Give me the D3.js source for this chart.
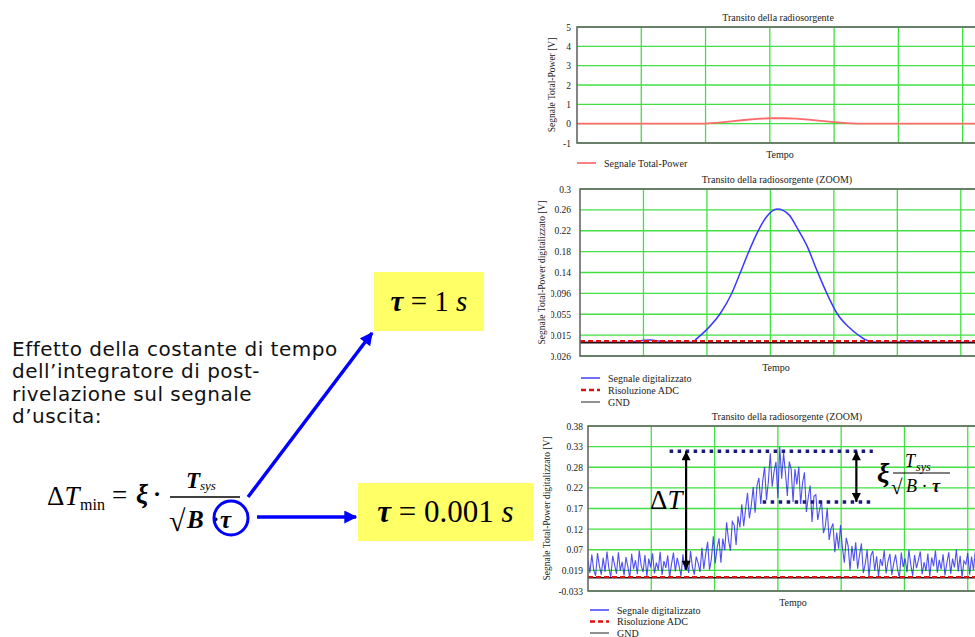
<!DOCTYPE html>
<html>
<head>
<meta charset="utf-8">
<script src="https://cdn.jsdelivr.net/npm/d3@7"></script>
<style>
  body { margin: 0; background: #fff; }
  svg { display: block; }
</style>
</head>
<body>
<svg id="slide" width="975" height="637"></svg>
<script>
// ---- data ----
// time axis has no labels, gridlines every 10 units
var timeGrid = [10, 20, 30, 40, 50, 60];

// top panel: total power signal [V]
var topTime = [0, 19.8, 22, 24, 26, 28, 30, 32, 34, 36, 38, 40, 42, 43.5, 62.7];
var topVolt = [0, 0, 0.05, 0.12, 0.19, 0.25, 0.28, 0.28, 0.26, 0.21, 0.14, 0.08, 0.03, 0, 0];
var topTicks = [-1, 0, 1, 2, 3, 4, 5];
var topLabels = ["-1", "0", "1", "2", "3", "4", "5"];

// middle panel: digitised signal, tau = 1 s
var midTime = [0, 8, 9.5, 11, 12.6, 14, 17.7, 18.4, 20.0, 22.1, 23.9, 25.2, 26.5, 27.9, 29.4, 31.1,
               32.9, 34.4, 35.8, 37.3, 38.9, 40.5, 42.3, 43.9, 45.5, 47, 50, 51.5, 53, 54.5, 63.5];
var midVolt = [0.001, 0.001, 0.004, 0.005, 0.003, 0.001, 0.001, 0.008, 0.026, 0.057, 0.096, 0.135, 0.175, 0.214, 0.246, 0.261,
               0.250, 0.220, 0.188, 0.142, 0.096, 0.057, 0.031, 0.0145, 0.003, 0.001, 0.001, 0.004, 0.003, 0.001, 0.001];
var midTicks = [-0.026, 0.01475, 0.0555, 0.09625, 0.137, 0.17775, 0.2185, 0.25925, 0.3];
var midLabels = ["-0.026", "0.015", "0.055", "0.096", "0.14", "0.18", "0.22", "0.26", "0.3"];

// bottom panel: digitised signal, tau = 0.001 s, samples every 0.3 time units (mV)
var noiseBefore = [45, 12, 58, 20, 5, 62, 30, 8, 50, 15, 66, 24, 2, 55, 33, 10, 64, 18, 40, 6,
                   52, 28, 0, 60, 22, 44, 9, 68, 31, 14, 57, 3, 48, 26, 61, 11, 38, 19, 65, 7,
                   42, 25, 56, 1, 35, 63, 16, 50, 29, 4, 59, 21, 46, 12, 67, 27, 8, 53, 37, 15];
var noiseTransit = [75, 22, 60, 90, 20, 48, 104, 36, 75, 99,
                    38, 98, 69, 139, 95, 68, 141, 132, 82, 154,
                    126, 184, 129, 173, 213, 149, 181, 227, 163, 230,
                    250, 185, 242, 277, 195, 241, 312, 228, 267, 290,
                    200, 328, 248, 312, 262, 205, 291, 272, 190, 272,
                    234, 278, 185, 238, 264, 165, 201, 231, 140, 204,
                    208, 145, 172, 192, 112, 129, 174, 95, 123, 136,
                    64, 113, 73, 132, 76, 38, 100, 80, 19, 80,
                    42, 89, 23, 57, 86, 12, 34, 70, 2, 56,
                    67];
var noiseAfter = [18, 54, 3, 47, 30, 69, 11, 41, 60, 7, 36, 58, 22, 0, 63, 27, 49, 14, 70, 33,
                  5, 57, 24, 44, 66, 9, 39, 17, 61, 2, 51, 29, 68, 13, 45, 21, 59, 6, 37, 64,
                  10, 48, 26, 71, 16, 55, 1, 42, 34, 62, 8, 53, 20, 67, 31, 4, 46, 23, 60, 12];
var sampleStep = 0.3;
var botTicks = [-0.033, 0.018625, 0.07025, 0.121875, 0.1735, 0.225125, 0.27675, 0.328375, 0.38];
var botLabels = ["-0.033", "0.019", "0.07", "0.12", "0.17", "0.22", "0.28", "0.33", "0.38"];

// reference levels [V]
var gndLevel = [0, 0];
var adcLevel = [0.003, 0.002];

// annotation on bottom panel (time, volts)
var dottedLevel = [0.317, 0.19];
var dottedFrom = [12.9, 27.6];
var dottedTo = [45, 45];
var arrowTime = [15.5, 42.4];
var arrowTop = [0.317, 0.317];
var arrowBottom = [0.02, 0.19];

var paragraph = ["Effetto della costante di tempo", "dell\u2019integratore di post-",
                 "rivelazione sul segnale", "d\u2019uscita:"];

// ---- drawing ----
var svg = d3.select("#slide");
var serif = "'Liberation Serif', 'Times New Roman', serif";
var gridGreen = "#42e042";
var defs = svg.append("defs");

defs.append("marker").attr("id", "headBlack")
    .attr("viewBox", "0 0 10 10").attr("refX", 10).attr("refY", 5)
    .attr("markerUnits", "userSpaceOnUse").attr("markerWidth", 10).attr("markerHeight", 9)
    .attr("orient", "auto-start-reverse")
  .append("path").attr("d", "M0,0 L10,5 L0,10 z").attr("fill", "#000");
defs.append("marker").attr("id", "headBlue")
    .attr("viewBox", "0 0 10 10").attr("refX", 9).attr("refY", 5)
    .attr("markerUnits", "userSpaceOnUse").attr("markerWidth", 15).attr("markerHeight", 13)
    .attr("orient", "auto")
  .append("path").attr("d", "M0,0 L10,5 L0,10 z").attr("fill", "#0000ff");

function drawPanel(p) {
  var x = d3.scaleLinear().domain(p.xDomain).range([p.left, p.left + p.width]);
  var y = d3.scaleLinear().domain(d3.extent(p.yTicks)).range([p.top + p.height, p.top]);
  var g = svg.append("g");

  defs.append("clipPath").attr("id", "plot" + p.id).append("rect")
      .attr("x", p.left).attr("y", p.top - 3).attr("width", p.width).attr("height", p.height + 6);

  g.append("g").selectAll("line").data(p.yTicks).enter().append("line")
      .attr("x1", p.left).attr("x2", p.left + p.width)
      .attr("y1", d => y(d)).attr("y2", d => y(d))
      .attr("stroke", gridGreen).attr("stroke-width", 1.3);
  g.append("g").selectAll("line").data(timeGrid).enter().append("line")
      .attr("x1", d => x(d)).attr("x2", d => x(d))
      .attr("y1", p.top).attr("y2", p.top + p.height)
      .attr("stroke", gridGreen).attr("stroke-width", 1.3);

  var axis = g.append("g").attr("transform", "translate(" + p.left + ",0)")
      .call(d3.axisLeft(y).tickValues(p.yTicks).tickFormat((d, i) => p.yLabels[i])
            .tickSize(0).tickPadding(p.pad));
  axis.select(".domain").remove();
  axis.selectAll("text").style("font-family", serif).style("font-size", "9.5px").attr("fill", "#222");
  if (p.labelClip) {
    defs.append("clipPath").attr("id", "lab" + p.id).append("rect")
        .attr("x", p.labelClip - p.left).attr("y", 0).attr("width", 60).attr("height", 637);
    axis.attr("clip-path", "url(#lab" + p.id + ")");
  }

  g.append("text").attr("transform", "translate(" + p.yTitleX + "," + (p.top + p.height / 2) + ") rotate(-90)")
      .attr("text-anchor", "middle").style("font-family", serif).style("font-size", "9.5px")
      .attr("fill", "#222").text(p.yTitle);
  g.append("text").attr("x", p.titleX).attr("y", p.top - 6).attr("text-anchor", "middle")
      .style("font-family", serif).style("font-size", "10px").attr("fill", "#222").text(p.title);
  g.append("text").attr("x", p.titleX + p.tempoShift).attr("y", p.top + p.height + 15).attr("text-anchor", "middle")
      .style("font-family", serif).style("font-size", "10px").attr("fill", "#222").text("Tempo");

  var plot = g.append("g").attr("clip-path", "url(#plot" + p.id + ")");

  g.append("rect").attr("x", p.left).attr("y", p.top).attr("width", p.width).attr("height", p.height)
      .attr("fill", "none").attr("stroke", "#666").attr("stroke-width", 1.6);

  // legend
  p.legend.forEach(function (item, i) {
    var ly = p.legendY + i * p.legendGap;
    g.append("line").attr("x1", p.legendX).attr("x2", p.legendX + 19).attr("y1", ly).attr("y2", ly)
        .attr("stroke", item.color).attr("stroke-width", item.width)
        .attr("stroke-dasharray", item.dash || null);
    g.append("text").attr("x", p.legendX + 27).attr("y", ly + 3.5)
        .style("font-family", serif).style("font-size", "10px").attr("fill", "#222").text(item.label);
  });

  return { x: x, y: y, plot: plot, g: g, p: p };
}

function levelLine(panel, level, color, width, dash) {
  var line = d3.line().x(d => panel.x(d)).y(panel.y(level));
  panel.plot.append("path").datum(panel.p.xDomain).attr("d", line)
      .attr("fill", "none").attr("stroke", color).attr("stroke-width", width)
      .attr("stroke-dasharray", dash || null);
}

var legendDig = [
  { label: "Segnale digitalizzato", color: "#7070ff", width: 2 },
  { label: "Risoluzione ADC", color: "#e01010", width: 2.5, dash: "5,3" },
  { label: "GND", color: "#222", width: 1 }
];

// top panel
var topPanel = drawPanel({
  id: "top", left: 577, top: 27, width: 403, height: 116, xDomain: [0, 62.7],
  yTicks: topTicks, yLabels: topLabels, pad: 6,
  yTitle: "Segnale Total-Power [V]", yTitleX: 555, title: "Transito della radiosorgente",
  titleX: 778, tempoShift: 2,
  legend: [{ label: "Segnale Total-Power", color: "#ff8080", width: 2 }],
  legendX: 577, legendY: 163, legendGap: 12
});
topPanel.plot.append("path").datum(d3.zip(topTime, topVolt))
    .attr("d", d3.line().x(d => topPanel.x(d[0])).y(d => topPanel.y(d[1])))
    .attr("fill", "none").attr("stroke", "#ff6a6a").attr("stroke-width", 1.8);

// middle panel
var midPanel = drawPanel({
  id: "mid", left: 580, top: 189, width: 403, height: 167, xDomain: [0, 63.5],
  yTicks: midTicks, yLabels: midLabels, pad: 9, labelClip: 551,
  yTitle: "Segnale Total-Power digitalizzato [V]", yTitleX: 545,
  title: "Transito della radiosorgente (ZOOM)", titleX: 777, tempoShift: -1,
  legend: legendDig, legendX: 581, legendY: 378, legendGap: 12
});
midPanel.plot.append("path").datum(d3.zip(midTime, midVolt))
    .attr("d", d3.line().curve(d3.curveMonotoneX).x(d => midPanel.x(d[0])).y(d => midPanel.y(d[1])))
    .attr("fill", "none").attr("stroke", "#3a3aff").attr("stroke-width", 1.5);
levelLine(midPanel, gndLevel[0], "#111", 1.4);
levelLine(midPanel, adcLevel[0], "#e01010", 2.2, "5,3");

// bottom panel
var botPanel = drawPanel({
  id: "bot", left: 588, top: 426, width: 400, height: 165, xDomain: [0, 63.2],
  yTicks: botTicks, yLabels: botLabels, pad: 5,
  yTitle: "Segnale Total-Power digitalizzato [V]", yTitleX: 550,
  title: "Transito della radiosorgente (ZOOM)", titleX: 787, tempoShift: 6,
  legend: legendDig, legendX: 590, legendY: 610, legendGap: 11.5
});
var noisy = noiseBefore.concat(noiseTransit, noiseAfter);
botPanel.plot.append("path").datum(noisy)
    .attr("d", d3.line().x((d, i) => botPanel.x(i * sampleStep)).y(d => botPanel.y(d / 1000)))
    .attr("fill", "none").attr("stroke", "#2323f0").attr("stroke-width", 1.1).attr("stroke-opacity", 0.8);
levelLine(botPanel, gndLevel[1], "#111", 1.4);
levelLine(botPanel, adcLevel[1], "#e01010", 2.2, "5,3");

// annotations inside bottom panel
dottedLevel.forEach(function (v, i) {
  botPanel.g.append("line")
      .attr("x1", botPanel.x(dottedFrom[i])).attr("x2", botPanel.x(dottedTo[i]))
      .attr("y1", botPanel.y(v)).attr("y2", botPanel.y(v))
      .attr("stroke", "#1b1b78").attr("stroke-width", 3.5).attr("stroke-dasharray", "3.5,4.5");
});
arrowTime.forEach(function (t, i) {
  botPanel.g.append("line")
      .attr("x1", botPanel.x(t)).attr("x2", botPanel.x(t))
      .attr("y1", botPanel.y(arrowTop[i])).attr("y2", botPanel.y(arrowBottom[i]))
      .attr("stroke", "#000").attr("stroke-width", 2.2)
      .attr("marker-start", "url(#headBlack)").attr("marker-end", "url(#headBlack)");
});
botPanel.g.append("text").attr("x", 650).attr("y", 509)
    .style("font-family", serif).style("font-size", "27px").attr("fill", "#000")
    .html("\u0394<tspan font-style='italic'>T</tspan>");

// xi * Tsys / sqrt(B tau) on the right of the bottom panel
var fr = botPanel.g.append("g").style("font-family", serif).attr("fill", "#000");
fr.append("text").attr("x", 877).attr("y", 482).style("font-size", "28px")
    .style("font-style", "italic").style("font-weight", "bold").text("\u03BE");
fr.append("text").attr("x", 905).attr("y", 467).style("font-size", "18px").style("font-style", "italic").text("T");
fr.append("text").attr("x", 916).attr("y", 471).style("font-size", "12px").style("font-style", "italic").text("sys");
fr.append("line").attr("x1", 893).attr("x2", 950).attr("y1", 473).attr("y2", 473).attr("stroke", "#000").attr("stroke-width", 1.2);
fr.append("text").attr("x", 891).attr("y", 494).style("font-size", "21px").text("\u221A");
fr.append("text").attr("x", 906).attr("y", 492).style("font-size", "18px").style("font-style", "italic")
    .html("B<tspan font-style='normal'> \u00B7 </tspan><tspan font-weight='bold'>\u03C4</tspan>");

// ---- left side of the slide ----
var slideLeft = svg.append("g");
slideLeft.selectAll("text.para").data(paragraph).enter().append("text")
    .attr("class", "para").attr("x", 12).attr("y", (d, i) => 356 + i * 22.3)
    .style("font-family", "'DejaVu Sans', Verdana, sans-serif").style("font-size", "20px")
    .style("letter-spacing", "0.5px").attr("fill", "#111").text(d => d);

var fm = slideLeft.append("g").style("font-family", serif).attr("fill", "#000");
fm.append("text").attr("x", 47).attr("y", 505).style("font-size", "27px")
    .html("\u0394<tspan font-style='italic'>T</tspan>");
fm.append("text").attr("x", 80).attr("y", 510).style("font-size", "16px").text("min");
fm.append("text").attr("x", 112).attr("y", 504).style("font-size", "27px").text("=");
fm.append("text").attr("x", 136).attr("y", 503).style("font-size", "27px")
    .style("font-style", "italic").style("font-weight", "bold").text("\u03BE");
fm.append("text").attr("x", 153).attr("y", 502).style("font-size", "24px").style("font-weight", "bold").text("\u00B7");
fm.append("text").attr("x", 186).attr("y", 488).style("font-size", "23px")
    .style("font-style", "italic").style("font-weight", "bold").text("T");
fm.append("text").attr("x", 200).attr("y", 490).style("font-size", "13px").style("font-style", "italic").text("sys");
fm.append("line").attr("x1", 170).attr("x2", 240).attr("y1", 497).attr("y2", 497).attr("stroke", "#000").attr("stroke-width", 1.4);
fm.append("text").attr("x", 169).attr("y", 531).style("font-size", "30px").text("\u221A");
fm.append("text").attr("x", 187).attr("y", 528).style("font-size", "25px")
    .style("font-style", "italic").style("font-weight", "bold").text("B");
fm.append("text").attr("x", 212).attr("y", 526).style("font-size", "22px").style("font-weight", "bold").text("\u00B7");
fm.append("text").attr("x", 220).attr("y", 528).style("font-size", "25px")
    .style("font-style", "italic").style("font-weight", "bold").text("\u03C4");
slideLeft.append("circle").attr("cx", 231).attr("cy", 518).attr("r", 17)
    .attr("fill", "none").attr("stroke", "#0000ff").attr("stroke-width", 3);

slideLeft.append("line").attr("x1", 248).attr("y1", 497).attr("x2", 372).attr("y2", 333)
    .attr("stroke", "#0000ff").attr("stroke-width", 3.5).attr("marker-end", "url(#headBlue)");
slideLeft.append("line").attr("x1", 257).attr("y1", 517).attr("x2", 356).attr("y2", 517)
    .attr("stroke", "#0000ff").attr("stroke-width", 3.5).attr("marker-end", "url(#headBlue)");

function tauBox(bx, by, bw, bh, value, size) {
  slideLeft.append("rect").attr("x", bx).attr("y", by).attr("width", bw).attr("height", bh).attr("fill", "#ffff66");
  slideLeft.append("text").attr("x", bx + bw / 2).attr("y", by + bh / 2 + size * 0.33)
      .attr("text-anchor", "middle").style("font-family", serif).style("font-size", size + "px").attr("fill", "#000")
      .html("<tspan font-style='italic' font-weight='bold'>\u03C4</tspan> = " + value +
            " <tspan font-style='italic'>s</tspan>");
}
tauBox(374, 272, 110, 59, "1", 29);
tauBox(358, 483, 175, 58, "0.001", 31);
</script>
</body>
</html>
